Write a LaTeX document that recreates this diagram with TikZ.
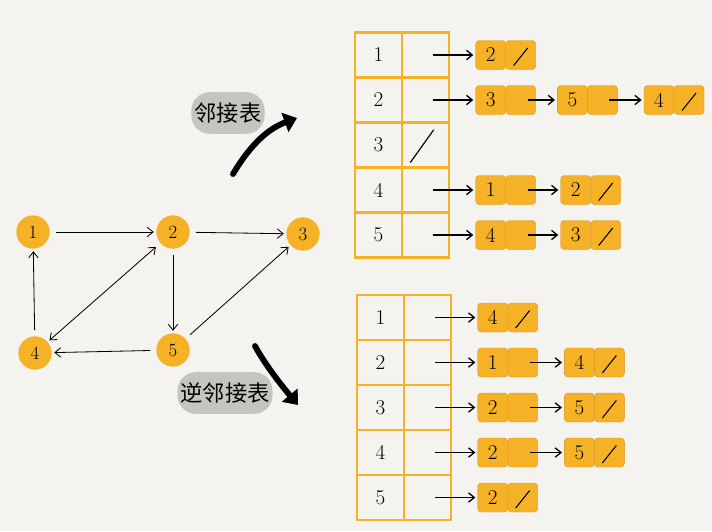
\documentclass[tikz,border=0pt]{standalone}
\usepackage{fontspec}
\newfontfamily\cjk{Noto Sans CJK SC}
\usetikzlibrary{positioning,arrows.meta}

\definecolor{bgcol}{RGB}{244,243,240}
\definecolor{nodeorange}{RGB}{246,178,38}
\definecolor{seam}{RGB}{214,146,20}
\definecolor{blobgrey}{RGB}{197,196,190}

\tikzset{
  vertex/.style={circle, fill=nodeorange, minimum size=1cm, inner sep=0pt,
    font=\fontsize{16}{18}\selectfont},
  cell/.style={draw=nodeorange, line width=2.5pt, outer sep=0pt,
    minimum width=1.41cm, minimum height=1.35cm, inner sep=0pt,
    font=\fontsize{18}{20}\selectfont},
  elem/.style={fill=nodeorange, draw=seam, line width=0.3pt,
    rounded corners=3pt, outer sep=0pt, minimum width=0.9cm,
    minimum height=0.87cm, inner sep=0pt, font=\fontsize{18}{20}\selectfont},
  nil/.style={path picture={\draw[black, line width=0.9pt]
    ([xshift=-6pt,yshift=-9pt]path picture bounding box.center) --
    ([xshift=6pt,yshift=6pt]path picture bounding box.center);}},
  tabnil/.style={path picture={\draw[black, line width=1pt]
    ([xshift=-13pt,yshift=-15pt]path picture bounding box.center) --
    ([xshift=7pt,yshift=13pt]path picture bounding box.center);}},
  link/.style={-{Straight Barb[length=5pt,width=8pt]}, line width=0.7pt,
    shorten <=5pt, shorten >=2pt},
  ptr/.style={-{Straight Barb[length=5pt,width=8pt]}, line width=1.1pt,
    shorten <=6pt, shorten >=2pt},
  blob/.style={fill=blobgrey, rounded corners=0.55cm, minimum height=1.25cm,
    inner sep=2pt, font=\cjk\fontsize{19}{21}\selectfont},
  bigarrow/.style={line width=5pt, line cap=round,
    -{Triangle[length=11pt,width=17pt]}}
}

\begin{document}
\begin{tikzpicture}[x=0.03cm, y=-0.03cm]

  \fill[bgcol] (0,0) rectangle (712,531);
  \useasboundingbox (0,0) rectangle (712,531);

  % Define nodes
  \node[vertex] (v1) at (33,232)  {1};
  \node[vertex] (v2) at (173,232) {2};
  \node[vertex] (v3) at (303,234) {3};
  \node[vertex] (v4) at (35,353)  {4};
  \node[vertex] (v5) at (173,350) {5};

  % Connect the nodes
  \draw[link] (v1) -- (v2);
  \draw[link] (v2) -- (v3);
  \draw[link] (v4) -- (v1);
  \draw[link, {Straight Barb[length=5pt,width=8pt]}-{Straight Barb[length=5pt,width=8pt]}] (v2) -- (v4);
  \draw[link] (v2) -- (v5);
  \draw[link] (v5) -- (v4);
  \draw[link] (v5) -- (v3);

  % Labels and big arrows
  \node[blob, minimum width=2.2cm] (adjlabel) at (228,113) {邻接表};
  \node[blob, minimum width=2.85cm] (invlabel) at (225,393) {逆邻接表};
  \coordinate (adjfrom) at (233,174);
  \coordinate (adjto) at (297,118);
  \coordinate (invfrom) at (255,346);
  \coordinate (invto) at (298,405);
  \draw[bigarrow] (adjfrom) .. controls (252,142) and (270,128) .. (adjto);
  \draw[bigarrow] (invfrom) .. controls (266,366) and (282,386) .. (invto);

  % Adjacency table
  \node[cell] (adjk1) at (378.5,55) {1};
  \node[cell, right=0pt of adjk1] (adjp1) {};
  \node[cell, below=0pt of adjk1] (adjk2) {2};
  \node[cell, right=0pt of adjk2] (adjp2) {};
  \node[cell, below=0pt of adjk2] (adjk3) {3};
  \node[cell, tabnil, right=0pt of adjk3] (adjp3) {};
  \node[cell, below=0pt of adjk3] (adjk4) {4};
  \node[cell, right=0pt of adjk4] (adjp4) {};
  \node[cell, below=0pt of adjk4] (adjk5) {5};
  \node[cell, right=0pt of adjk5] (adjp5) {};

  % Adjacency lists
  \node[elem, right=0.8cm of adjp1] (a11) {2};
  \node[elem, nil, right=0pt of a11] (a11n) {};
  \node[elem, right=0.8cm of adjp2] (a21) {3};
  \node[elem, right=0pt of a21] (a21n) {};
  \node[elem, right=0.65cm of a21n] (a22) {5};
  \node[elem, right=0pt of a22] (a22n) {};
  \node[elem, right=0.8cm of a22n] (a23) {4};
  \node[elem, nil, right=0pt of a23] (a23n) {};
  \node[elem, right=0.8cm of adjp4] (a41) {1};
  \node[elem, right=0pt of a41] (a41n) {};
  \node[elem, right=0.75cm of a41n] (a42) {2};
  \node[elem, nil, right=0pt of a42] (a42n) {};
  \node[elem, right=0.8cm of adjp5] (a51) {4};
  \node[elem, right=0pt of a51] (a51n) {};
  \node[elem, right=0.75cm of a51n] (a52) {3};
  \node[elem, nil, right=0pt of a52] (a52n) {};

  \draw[ptr] (adjp1.center) -- (a11);
  \draw[ptr] (adjp2.center) -- (a21);
  \draw[ptr] (a21n.center) -- (a22);
  \draw[ptr] (a22n.center) -- (a23);
  \draw[ptr] (adjp4.center) -- (a41);
  \draw[ptr] (a41n.center) -- (a42);
  \draw[ptr] (adjp5.center) -- (a51);
  \draw[ptr] (a51n.center) -- (a52);

  % Inverse adjacency table
  \node[cell] (invk1) at (380.5,317.5) {1};
  \node[cell, right=0pt of invk1] (invp1) {};
  \node[cell, below=0pt of invk1] (invk2) {2};
  \node[cell, right=0pt of invk2] (invp2) {};
  \node[cell, below=0pt of invk2] (invk3) {3};
  \node[cell, right=0pt of invk3] (invp3) {};
  \node[cell, below=0pt of invk3] (invk4) {4};
  \node[cell, right=0pt of invk4] (invp4) {};
  \node[cell, below=0pt of invk4] (invk5) {5};
  \node[cell, right=0pt of invk5] (invp5) {};

  % Inverse adjacency lists
  \node[elem, right=0.8cm of invp1] (b11) {4};
  \node[elem, nil, right=0pt of b11] (b11n) {};
  \node[elem, right=0.8cm of invp2] (b21) {1};
  \node[elem, right=0pt of b21] (b21n) {};
  \node[elem, right=0.8cm of b21n] (b22) {4};
  \node[elem, nil, right=0pt of b22] (b22n) {};
  \node[elem, right=0.8cm of invp3] (b31) {2};
  \node[elem, right=0pt of b31] (b31n) {};
  \node[elem, right=0.8cm of b31n] (b32) {5};
  \node[elem, nil, right=0pt of b32] (b32n) {};
  \node[elem, right=0.8cm of invp4] (b41) {2};
  \node[elem, right=0pt of b41] (b41n) {};
  \node[elem, right=0.8cm of b41n] (b42) {5};
  \node[elem, nil, right=0pt of b42] (b42n) {};
  \node[elem, right=0.8cm of invp5] (b51) {2};
  \node[elem, nil, right=0pt of b51] (b51n) {};

  \draw[ptr] (invp1.center) -- (b11);
  \draw[ptr] (invp2.center) -- (b21);
  \draw[ptr] (b21n.center) -- (b22);
  \draw[ptr] (invp3.center) -- (b31);
  \draw[ptr] (b31n.center) -- (b32);
  \draw[ptr] (invp4.center) -- (b41);
  \draw[ptr] (b41n.center) -- (b42);
  \draw[ptr] (invp5.center) -- (b51);

\end{tikzpicture}
\end{document}
